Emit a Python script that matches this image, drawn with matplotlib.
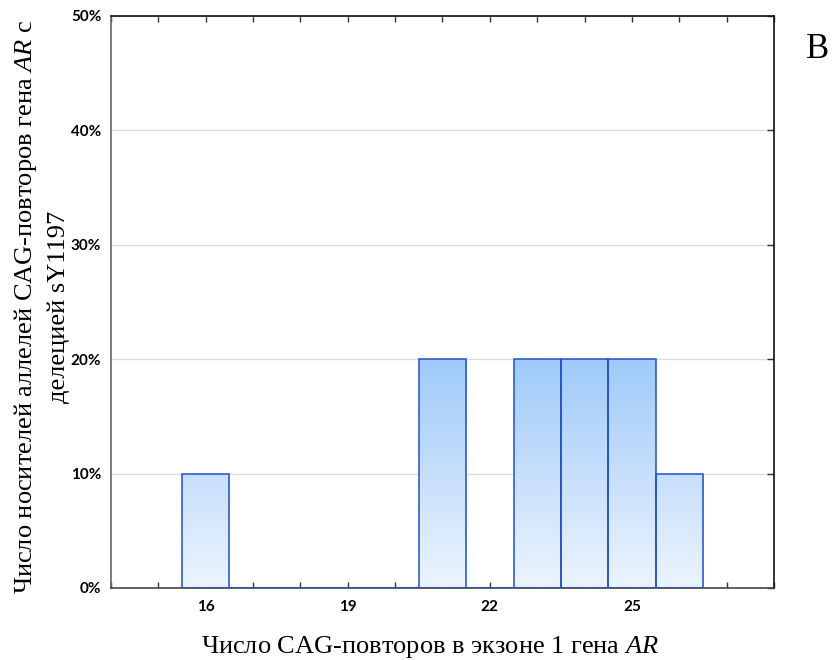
import numpy as np
import matplotlib
matplotlib.use("Agg")
from matplotlib import pyplot as plt
from matplotlib.colors import LinearSegmentedColormap
from matplotlib.ticker import FixedLocator, MultipleLocator, PercentFormatter

repeats = [16, 17, 18, 19, 20, 21, 22, 23, 24, 25, 26]
share = [10, 0, 0, 0, 0, 20, 0, 20, 20, 20, 10]
x_labels = [16, 19, 22, 25]
y_ticks = [0, 10, 20, 30, 40, 50]

plt.rcParams["mathtext.fontset"] = "custom"
plt.rcParams["mathtext.rm"] = "Liberation Serif"
plt.rcParams["mathtext.it"] = "Liberation Serif:italic"

fig = plt.figure(figsize=(8.34, 6.6), dpi=100)
ax = fig.add_axes([0.1331, 0.1091, 0.7949, 0.8667])

grad = LinearSegmentedColormap.from_list("g", ["#ecf4fd", "#a0cafa"])
bars = ax.bar(repeats, share, width=1.0, facecolor="none", edgecolor="#2350c4",
              linewidth=1.1, zorder=3)
for b in bars:
    if b.get_height() <= 0:
        continue
    # vertical gradient, same scale for every bar
    img = ax.imshow(np.linspace(0, 1, 200).reshape(-1, 1), cmap=grad, origin="lower",
                    extent=[14, 28, 0, 20], aspect="auto", zorder=2, vmin=0, vmax=1)
    img.set_clip_path(b)

ax.set_xlim(14, 28)
ax.set_ylim(0, 50)

ax.yaxis.set_major_locator(FixedLocator(y_ticks))
ax.yaxis.set_major_formatter(PercentFormatter(decimals=0))
ax.xaxis.set_major_locator(FixedLocator(x_labels))
ax.xaxis.set_minor_locator(MultipleLocator(1))
ax.grid(axis="y", color="#dcdcdc", linewidth=1.0, zorder=0)
ax.set_axisbelow(True)

ax.tick_params(axis="x", which="both", direction="in", top=True, length=4,
               width=1, color="#333333", pad=9)
ax.tick_params(axis="y", which="both", direction="in", left=False, right=True,
               length=5, width=1, color="#333333", pad=7)
for lab in ax.get_xticklabels() + ax.get_yticklabels():
    lab.set_fontfamily("Lato")
    lab.set_fontweight("bold")
    lab.set_fontsize(11)

ax.spines["left"].set_color("#666666")
ax.spines["bottom"].set_color("#444444")
ax.spines["top"].set_color("#111111")
ax.spines["right"].set_color("#111111")
for s in ax.spines.values():
    s.set_linewidth(1.2)

fig.text(430 / 834, 1 - 647 / 660, r"Число CAG-повторов в экзоне 1 гена $\mathit{AR}$",
         fontfamily="Liberation Serif", fontsize=19, ha="center", va="center")
fig.text(41 / 834, 1 - 307 / 660,
         "Число носителей аллелей CAG-повторов гена $\\mathit{AR}$ с\nделецией sY1197",
         fontfamily="Liberation Serif", fontsize=19, rotation=90, ha="center",
         va="center", multialignment="center", linespacing=1.45)

fig.text(818 / 834, 1 - 50 / 660, "B", fontfamily="Liberation Serif", fontsize=25,
         ha="center", va="center")

fig.savefig("out.png", dpi=100)
